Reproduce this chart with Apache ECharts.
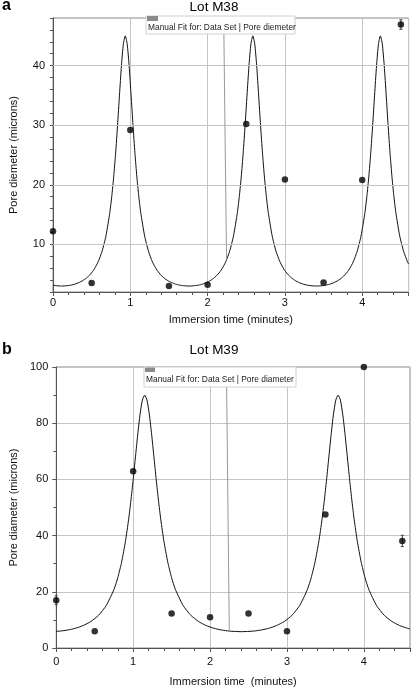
<!DOCTYPE html>
<html>
<head>
<meta charset="utf-8">
<script src="https://cdn.jsdelivr.net/npm/echarts@6/dist/echarts.min.js"></script>
<style>html,body{margin:0;padding:0;background:#fff}#c{width:413px;height:690px}</style>
</head>
<body>
<div id="c"></div>
<script>
// ---------- DATA ----------
const timesA = [0, 0.5, 1, 1.5, 2, 2.5, 3, 3.5, 4, 4.5];
const poreA  = [12.2, 3.5, 29.2, 3.0, 3.2, 30.2, 20.9, 3.6, 20.8, 46.9];
const errA   = [0, 0, 0, 0, 0, 0, 0, 0, 0, 0.8];

const timesB = [0, 0.5, 1, 1.5, 2, 2.5, 3, 3.5, 4, 4.5];
const poreB  = [17.0, 6.0, 62.9, 12.3, 10.9, 12.3, 6.0, 47.5, 100, 38.1];
const errB   = [1.6, 0, 0, 0, 0, 0, 0, 0, 0, 2.0];

// manual-fit curves: [time, pore diameter]
const fitA = [[0,3.13],[0.11,3.00],[0.185,3.06],[0.235,3.16],[0.285,3.33],[0.335,3.58],[0.385,3.91],[0.435,4.37],[0.485,5.00],[0.535,5.87],[0.585,7.09],[0.635,8.84],[0.685,11.42],[0.735,15.34],[0.76,18.02],[0.785,21.31],[0.81,25.31],[0.835,29.97],[0.86,35.06],[0.885,39.95],[0.91,43.62],[0.935,45],[0.96,43.62],[0.985,39.95],[1.01,35.06],[1.035,29.97],[1.06,25.31],[1.085,21.31],[1.11,18.02],[1.135,15.34],[1.185,11.42],[1.235,8.84],[1.285,7.09],[1.335,5.87],[1.385,5.00],[1.435,4.37],[1.485,3.91],[1.535,3.58],[1.585,3.33],[1.635,3.16],[1.685,3.06],[1.76,3.00],[1.835,3.06],[1.885,3.16],[1.935,3.33],[1.985,3.58],[2.035,3.91],[2.085,4.37],[2.135,5.00],[2.185,5.87],[2.235,7.09],[2.285,8.84],[2.335,11.42],[2.385,15.34],[2.41,18.02],[2.435,21.31],[2.46,25.31],[2.485,29.97],[2.51,35.06],[2.535,39.95],[2.56,43.62],[2.585,45],[2.61,43.62],[2.635,39.95],[2.66,35.06],[2.685,29.97],[2.71,25.31],[2.735,21.31],[2.76,18.02],[2.785,15.34],[2.835,11.42],[2.885,8.84],[2.935,7.09],[2.985,5.87],[3.035,5.00],[3.085,4.37],[3.135,3.91],[3.185,3.58],[3.235,3.33],[3.285,3.16],[3.335,3.06],[3.41,3.00],[3.485,3.06],[3.535,3.16],[3.585,3.33],[3.635,3.58],[3.685,3.91],[3.735,4.37],[3.785,5.00],[3.835,5.87],[3.885,7.09],[3.935,8.84],[3.985,11.42],[4.035,15.34],[4.06,18.02],[4.085,21.31],[4.11,25.31],[4.135,29.97],[4.16,35.06],[4.185,39.95],[4.21,43.62],[4.235,45],[4.26,43.62],[4.285,39.95],[4.31,35.06],[4.335,29.97],[4.36,25.31],[4.385,21.31],[4.41,18.02],[4.435,15.34],[4.485,11.42],[4.535,8.84],[4.585,7.09],[4.6,6.7]];

const fitB = [[0,5.95],[0.05,6.02],[0.15,6.40],[0.25,7.03],[0.35,7.99],[0.45,9.44],[0.55,11.64],[0.65,15.11],[0.75,20.79],[0.80,25.00],[0.85,30.58],[0.90,37.99],[0.94,45.57],[0.97,52.30],[1.00,59.87],[1.03,68.01],[1.06,76.11],[1.09,83.23],[1.12,88.2],[1.15,90],[1.18,88.2],[1.21,83.23],[1.24,76.11],[1.27,68.01],[1.30,59.87],[1.33,52.30],[1.36,45.57],[1.40,37.99],[1.45,30.58],[1.50,25.00],[1.55,20.79],[1.65,15.11],[1.75,11.64],[1.85,9.44],[1.95,7.99],[2.05,7.03],[2.15,6.40],[2.25,6.02],[2.41,5.81],[2.565,6.02],[2.665,6.40],[2.765,7.03],[2.865,7.99],[2.965,9.44],[3.065,11.64],[3.165,15.11],[3.265,20.79],[3.315,25.00],[3.365,30.58],[3.415,37.99],[3.455,45.57],[3.485,52.30],[3.515,59.87],[3.545,68.01],[3.575,76.11],[3.605,83.23],[3.635,88.2],[3.665,90],[3.695,88.2],[3.725,83.23],[3.755,76.11],[3.785,68.01],[3.815,59.87],[3.845,52.30],[3.875,45.57],[3.915,37.99],[3.965,30.58],[4.015,25.00],[4.065,20.79],[4.165,15.11],[4.265,11.64],[4.365,9.44],[4.465,7.99],[4.565,7.03],[4.6,6.8]];

const gridValuesA = [10, 20, 30, 40];
const pointerA = [[2.208, 48], [2.245, 7.44]];
const pointerB = [[2.213, 100], [2.25, 5.9]];

const titleA = 'Lot M38', titleB = 'Lot M39';
const yNameA = 'Pore diemeter (microns)', yNameB = 'Pore diameter (microns)';
const xNameA = 'Immersion time (minutes)', xNameB = 'Immersion time  (minutes)';
const fitLabelA = 'Manual Fit for: Data Set | Pore diemeter';
const fitLabelB = 'Manual Fit for: Data Set | Pore diameter';

// ---------- CHART ----------
const FONT = 'Liberation Sans, Arial, Helvetica, sans-serif';
const AX = '#555', GRIDC = '#c4c4c4';
const chart = echarts.init(document.getElementById('c'), null, {renderer: 'canvas'});

function xAxisCfg(gi, name, gap, margin) {
  return {
    gridIndex: gi, type: 'value', min: 0, max: 4.6, interval: 1,
    name: name, nameLocation: 'middle', nameGap: gap,
    nameTextStyle: {fontFamily: FONT, fontSize: 11, color: '#111'},
    axisLine: {show: true, onZero: false, lineStyle: {color: AX, width: 1}},
    axisTick: {show: true, length: 4, lineStyle: {color: AX}},
    minorTick: {show: true, splitNumber: 5, length: 3, lineStyle: {color: AX}},
    axisLabel: {fontFamily: FONT, fontSize: 11, color: '#111', margin: margin,
      formatter: v => (Math.abs(v - Math.round(v)) < 1e-6 ? String(Math.round(v)) : '')},
    splitLine: {show: true, lineStyle: {color: GRIDC, width: 1}}
  };
}

function errSeries(xi, yi, data) {
  return {
    type: 'custom', xAxisIndex: xi, yAxisIndex: yi, z: 4, silent: true,
    data: data,
    renderItem: function (params, api) {
      const e = api.value(2);
      if (!e) return null;
      const x = api.value(0), y = api.value(1);
      const t = api.coord([x, y + e]), b = api.coord([x, y - e]);
      const st = {stroke: '#444', lineWidth: 1};
      return {type: 'group', children: [
        {type: 'line', shape: {x1: t[0], y1: t[1], x2: b[0], y2: b[1]}, style: st},
        {type: 'line', shape: {x1: t[0] - 1.5, y1: t[1], x2: t[0] + 1.5, y2: t[1]}, style: st},
        {type: 'line', shape: {x1: b[0] - 1.5, y1: b[1], x2: b[0] + 1.5, y2: b[1]}, style: st}
      ]};
    }
  };
}

const option = {
  animation: false,
  backgroundColor: '#fff',
  grid: [
    {left: 49, top: 18, right: 4.4, height: 274, show: true, borderColor: '#888', borderWidth: 1},
    {left: 46.7, top: 367, right: 1.5, height: 281, show: true, borderColor: '#888', borderWidth: 1}
  ],
  xAxis: [xAxisCfg(0, xNameA, 22, 5), xAxisCfg(1, xNameB, 28, 8)],
  yAxis: [
    {
      gridIndex: 0, type: 'value', min: 2, max: 48, interval: 2,
      name: yNameA, nameLocation: 'middle', nameGap: 34,
      nameTextStyle: {fontFamily: FONT, fontSize: 11, color: '#111'},
      axisLine: {show: true, onZero: false, lineStyle: {color: AX}},
      axisTick: {show: true, length: 3, lineStyle: {color: AX}},
      axisLabel: {fontFamily: FONT, fontSize: 11, color: '#111', margin: 8,
        formatter: v => (v % 10 === 0 ? String(v) : '')},
      splitLine: {show: false}
    },
    {
      gridIndex: 1, type: 'value', min: 0, max: 100, interval: 20,
      name: yNameB, nameLocation: 'middle', nameGap: 33,
      nameTextStyle: {fontFamily: FONT, fontSize: 11, color: '#111'},
      axisLine: {show: true, onZero: false, lineStyle: {color: AX}},
      axisTick: {show: true, length: 4, lineStyle: {color: AX}},
      minorTick: {show: true, splitNumber: 2, length: 3, lineStyle: {color: AX}},
      axisLabel: {fontFamily: FONT, fontSize: 11, color: '#111', margin: 8},
      splitLine: {show: true, lineStyle: {color: GRIDC, width: 1}}
    }
  ],
  series: [
    {
      type: 'line', xAxisIndex: 0, yAxisIndex: 0, data: fitA, z: 1, silent: true,
      symbol: 'none', lineStyle: {opacity: 0},
      markLine: {
        silent: true, symbol: ['none', 'none'], label: {show: false},
        lineStyle: {color: GRIDC, width: 1, type: 'solid'},
        data: gridValuesA.map(v => ({yAxis: v})).concat([[
          {coord: pointerA[0], lineStyle: {color: '#999', width: 1, type: 'solid'}},
          {coord: pointerA[1]}
        ]])
      }
    },
    {
      type: 'line', xAxisIndex: 0, yAxisIndex: 0, data: fitA, z: 2, silent: true,
      symbol: 'none', smooth: 0.2, lineStyle: {color: '#111', width: 1}
    },
    {
      type: 'scatter', xAxisIndex: 0, yAxisIndex: 0, z: 5, symbolSize: 6.5,
      itemStyle: {color: '#000'},
      data: timesA.map((t, i) => [t, poreA[i]])
    },
    errSeries(0, 0, timesA.map((t, i) => [t, poreA[i], errA[i]])),
    {
      type: 'line', xAxisIndex: 1, yAxisIndex: 1, data: fitB, z: 1, silent: true,
      symbol: 'none', lineStyle: {opacity: 0},
      markLine: {
        silent: true, symbol: ['none', 'none'], label: {show: false},
        lineStyle: {color: '#999', width: 1, type: 'solid'},
        data: [[{coord: pointerB[0]}, {coord: pointerB[1]}]]
      }
    },
    {
      type: 'line', xAxisIndex: 1, yAxisIndex: 1, data: fitB, z: 2, silent: true,
      symbol: 'none', smooth: 0.2, lineStyle: {color: '#111', width: 1}
    },
    {
      type: 'scatter', xAxisIndex: 1, yAxisIndex: 1, z: 5, symbolSize: 6.5, clip: false,
      itemStyle: {color: '#000'},
      data: timesB.map((t, i) => [t, poreB[i]])
    },
    errSeries(1, 1, timesB.map((t, i) => [t, poreB[i], errB[i]]))
  ],
  graphic: [
    {type: 'text', z: 100, x: 2, y: 6, style: {text: 'a', font: 'bold 16px ' + FONT, fill: '#000', verticalAlign: 'middle'}},
    {type: 'text', z: 100, x: 214, y: 7.5, style: {text: titleA, font: '13.5px ' + FONT, fill: '#000', align: 'center', verticalAlign: 'middle'}},
    {type: 'rect', z: 100, shape: {x: 146, y: 16, width: 149, height: 18}, style: {fill: '#fff', stroke: '#d0d0d0', lineWidth: 1}},
    {type: 'rect', z: 101, shape: {x: 147, y: 16, width: 11, height: 5}, style: {fill: '#8a8a8a'}},
    {type: 'text', z: 101, x: 148, y: 28, style: {text: fitLabelA, font: '8.4px ' + FONT, fill: '#222', verticalAlign: 'middle'}},

    {type: 'text', z: 100, x: 2, y: 350, style: {text: 'b', font: 'bold 16px ' + FONT, fill: '#000', verticalAlign: 'middle'}},
    {type: 'text', z: 100, x: 214, y: 350, style: {text: titleB, font: '13.5px ' + FONT, fill: '#000', align: 'center', verticalAlign: 'middle'}},
    {type: 'rect', z: 100, shape: {x: 144, y: 367, width: 152, height: 20}, style: {fill: '#fff', stroke: '#d0d0d0', lineWidth: 1}},
    {type: 'rect', z: 101, shape: {x: 145, y: 367.5, width: 10, height: 4.5}, style: {fill: '#8a8a8a'}},
    {type: 'text', z: 101, x: 146, y: 379.5, style: {text: fitLabelB, font: '8.4px ' + FONT, fill: '#222', verticalAlign: 'middle'}}
  ]
};
chart.setOption(option);
</script>
</body>
</html>
